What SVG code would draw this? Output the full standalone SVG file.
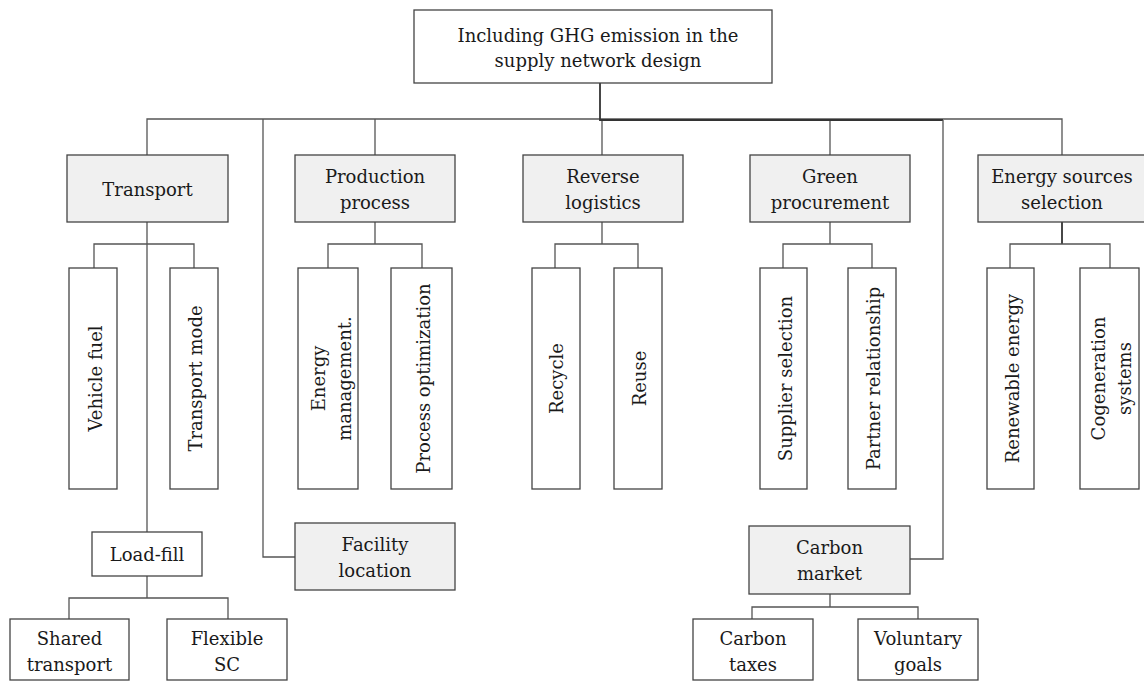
<svg xmlns="http://www.w3.org/2000/svg" width="1144" height="683" viewBox="0 0 1144 683">
  <style>
    .box { fill: #ffffff; stroke: #444444; stroke-width: 1.3; }
    .cat { fill: #f0f0f0; stroke: #444444; stroke-width: 1.3; }
    .lbl { font-family: "DejaVu Serif", "Liberation Serif", serif; font-size: 18px; fill: #1a1a1a; text-anchor: middle; }
    .wire { fill: none; stroke: #555555; stroke-width: 1.3; }
    .wire-strong { fill: none; stroke: #333333; stroke-width: 1.8; }
  </style>
  <rect width="1144" height="683" fill="#ffffff"/>

  <!-- connectors -->
  <g id="connectors">
    <!-- main bus to the five categories -->
    <path class="wire" d="M147,155 V119 H1062 V155"/>
    <path class="wire" d="M375,119 V155 M602,119 V155 M830,119 V155"/>
    <!-- branch to facility location -->
    <path class="wire" d="M263,119 V557 H295"/>
    <!-- root stem and branch to carbon market -->
    <path class="wire-strong" d="M600,83 V120 H943"/>
    <path class="wire" d="M943,120 V559 H910"/>
    <!-- transport -->
    <path class="wire" d="M147,222 V532 M94,268 V244 H194 V268"/>
    <!-- load-fill -->
    <path class="wire" d="M147,576 V598 M69,619 V598 H228 V619"/>
    <!-- production process -->
    <path class="wire" d="M375,222 V244 M328,268 V244 H422 V268"/>
    <!-- reverse logistics -->
    <path class="wire" d="M602,222 V244 M555,268 V244 H638 V268"/>
    <!-- green procurement -->
    <path class="wire" d="M830,222 V244 M783,268 V244 H872 V268"/>
    <!-- energy sources selection -->
    <path class="wire-strong" d="M1062,222 V244"/>
    <path class="wire" d="M1010,268 V244 H1110 V268"/>
    <!-- carbon market -->
    <path class="wire" d="M830,594 V607 M752,619 V607 H918 V619"/>
  </g>

  <!-- root -->
  <g id="root">
    <rect class="box" x="414" y="10" width="358" height="73"/>
    <text class="lbl" x="598" y="42">Including GHG emission in the</text>
    <text class="lbl" x="598" y="67">supply network design</text>
  </g>

  <!-- categories -->
  <g id="transport">
    <rect class="cat" x="67" y="155" width="161" height="67"/>
    <text class="lbl" x="147.5" y="196">Transport</text>
  </g>
  <g id="production-process">
    <rect class="cat" x="295" y="155" width="160" height="67"/>
    <text class="lbl" x="375" y="183">Production</text>
    <text class="lbl" x="375" y="209">process</text>
  </g>
  <g id="reverse-logistics">
    <rect class="cat" x="523" y="155" width="160" height="67"/>
    <text class="lbl" x="603" y="183">Reverse</text>
    <text class="lbl" x="603" y="209">logistics</text>
  </g>
  <g id="green-procurement">
    <rect class="cat" x="750" y="155" width="160" height="67"/>
    <text class="lbl" x="830" y="183">Green</text>
    <text class="lbl" x="830" y="209">procurement</text>
  </g>
  <g id="energy-sources">
    <rect class="cat" x="978" y="155" width="170" height="67"/>
    <text class="lbl" x="1062" y="183">Energy sources</text>
    <text class="lbl" x="1062" y="209">selection</text>
  </g>

  <!-- vertical leaves -->
  <g id="vehicle-fuel">
    <rect class="box" x="69" y="268" width="48" height="221"/>
    <text class="lbl" transform="translate(101.5,378.5) rotate(-90)">Vehicle fuel</text>
  </g>
  <g id="transport-mode">
    <rect class="box" x="170" y="268" width="48" height="221"/>
    <text class="lbl" transform="translate(202,378.5) rotate(-90)">Transport mode</text>
  </g>
  <g id="energy-management">
    <rect class="box" x="298" y="268" width="60" height="221"/>
    <text class="lbl" transform="translate(325,378.5) rotate(-90)">Energy</text>
    <text class="lbl" transform="translate(351,378.5) rotate(-90)">management.</text>
  </g>
  <g id="process-optimization">
    <rect class="box" x="391" y="268" width="61" height="221"/>
    <text class="lbl" transform="translate(430,378.5) rotate(-90)">Process optimization</text>
  </g>
  <g id="recycle">
    <rect class="box" x="532" y="268" width="48" height="221"/>
    <text class="lbl" transform="translate(563,378.5) rotate(-90)">Recycle</text>
  </g>
  <g id="reuse">
    <rect class="box" x="614" y="268" width="48" height="221"/>
    <text class="lbl" transform="translate(646,378.5) rotate(-90)">Reuse</text>
  </g>
  <g id="supplier-selection">
    <rect class="box" x="760" y="268" width="47" height="221"/>
    <text class="lbl" transform="translate(792,378.5) rotate(-90)">Supplier selection</text>
  </g>
  <g id="partner-relationship">
    <rect class="box" x="848" y="268" width="48" height="221"/>
    <text class="lbl" transform="translate(880,378.5) rotate(-90)">Partner relationship</text>
  </g>
  <g id="renewable-energy">
    <rect class="box" x="987" y="268" width="47" height="221"/>
    <text class="lbl" transform="translate(1019,378.5) rotate(-90)">Renewable energy</text>
  </g>
  <g id="cogeneration-systems">
    <rect class="box" x="1080" y="268" width="59" height="221"/>
    <text class="lbl" transform="translate(1105,378.5) rotate(-90)">Cogeneration</text>
    <text class="lbl" transform="translate(1131,378.5) rotate(-90)">systems</text>
  </g>

  <!-- lower branches -->
  <g id="load-fill">
    <rect class="box" x="92" y="532" width="110" height="44"/>
    <text class="lbl" x="147" y="561">Load-fill</text>
  </g>
  <g id="shared-transport">
    <rect class="box" x="10" y="619" width="119" height="61"/>
    <text class="lbl" x="69.5" y="645">Shared</text>
    <text class="lbl" x="69.5" y="671">transport</text>
  </g>
  <g id="flexible-sc">
    <rect class="box" x="167" y="619" width="120" height="61"/>
    <text class="lbl" x="227" y="645">Flexible</text>
    <text class="lbl" x="227" y="671">SC</text>
  </g>
  <g id="facility-location">
    <rect class="cat" x="295" y="523" width="160" height="67"/>
    <text class="lbl" x="375" y="551">Facility</text>
    <text class="lbl" x="375" y="577">location</text>
  </g>
  <g id="carbon-market">
    <rect class="cat" x="749" y="526" width="161" height="68"/>
    <text class="lbl" x="829.5" y="554">Carbon</text>
    <text class="lbl" x="829.5" y="580">market</text>
  </g>
  <g id="carbon-taxes">
    <rect class="box" x="693" y="619" width="120" height="61"/>
    <text class="lbl" x="753" y="645">Carbon</text>
    <text class="lbl" x="753" y="671">taxes</text>
  </g>
  <g id="voluntary-goals">
    <rect class="box" x="858" y="619" width="120" height="61"/>
    <text class="lbl" x="918" y="645">Voluntary</text>
    <text class="lbl" x="918" y="671">goals</text>
  </g>
</svg>
